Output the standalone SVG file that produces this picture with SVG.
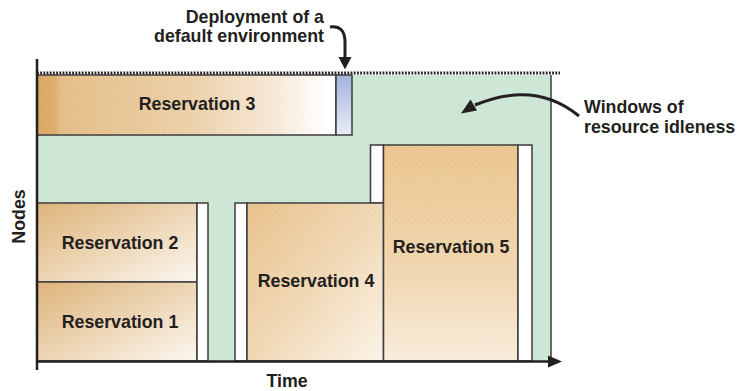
<svg xmlns="http://www.w3.org/2000/svg" width="738" height="391" viewBox="0 0 738 391">
<style>
  text { font-family: "Liberation Sans", Arial, sans-serif; font-weight: bold; font-size: 17.8px; fill: #231f20; }
  .box { stroke: #3d3b3c; stroke-width: 1.5; }
  .white { fill: #ffffff; stroke: #3d3b3c; stroke-width: 1.5; }
  .axis { stroke: #231f20; stroke-width: 2.5; fill: none; }
  .arrow { stroke: #231f20; stroke-width: 3; fill: none; }
  .head { fill: #231f20; stroke: none; }
</style>
<defs>
  <linearGradient id="g3" x1="0" y1="0" x2="1" y2="0">
    <stop offset="0" stop-color="#d8a55c"/>
    <stop offset="0.06" stop-color="#dcad6c"/>
    <stop offset="0.08" stop-color="#e4bd86"/>
    <stop offset="0.5" stop-color="#ebcfa6"/>
    <stop offset="0.8" stop-color="#f6e8d6"/>
    <stop offset="0.97" stop-color="#ffffff"/>
  </linearGradient>
  <linearGradient id="g12" x1="0" y1="0" x2="1" y2="1">
    <stop offset="0" stop-color="#dcb277"/>
    <stop offset="0.5" stop-color="#ecd4b2"/>
    <stop offset="1" stop-color="#fcf7f0"/>
  </linearGradient>
  <linearGradient id="g4" x1="0" y1="0" x2="1" y2="1">
    <stop offset="0" stop-color="#e8c18a"/>
    <stop offset="0.5" stop-color="#f0d7b3"/>
    <stop offset="1" stop-color="#fbf3e7"/>
  </linearGradient>
  <linearGradient id="g5" x1="0" y1="0" x2="0" y2="1">
    <stop offset="0" stop-color="#ebc58c"/>
    <stop offset="0.6" stop-color="#f0d6b0"/>
    <stop offset="1" stop-color="#f8ecdb"/>
  </linearGradient>
  <linearGradient id="gb" x1="0" y1="0" x2="0" y2="1">
    <stop offset="0" stop-color="#a3b2dc"/>
    <stop offset="1" stop-color="#e9edf7"/>
  </linearGradient>
  <pattern id="hatch" width="4" height="4" patternUnits="userSpaceOnUse" patternTransform="rotate(-50)">
    <line x1="0" y1="0" x2="0" y2="4" stroke="#ffffff" stroke-width="1" stroke-opacity="0.18"/>
  </pattern>
</defs>

<g id="idle-area">
  <rect x="37" y="75" width="514" height="286" fill="#cde6d5"/>
  <line x1="551" y1="75" x2="551" y2="361" stroke="#3d3b3c" stroke-width="1.5"/>
</g>

<g id="reservation-3">
  <rect class="box" x="37" y="75" width="299" height="60" fill="url(#g3)"/>
  <rect x="37" y="75" width="299" height="60" fill="url(#hatch)"/>
  <text x="197" y="110" text-anchor="middle">Reservation 3</text>
</g>
<g id="default-env">
  <rect class="box" x="336" y="75" width="16" height="60" fill="url(#gb)"/>
</g>

<g id="reservation-2">
  <rect class="box" x="37" y="203" width="160" height="79" fill="url(#g12)"/>
  <rect x="37" y="203" width="160" height="79" fill="url(#hatch)"/>
  <text x="120" y="249" text-anchor="middle">Reservation 2</text>
</g>
<g id="reservation-1">
  <rect class="box" x="37" y="282" width="160" height="79" fill="url(#g12)"/>
  <rect x="37" y="282" width="160" height="79" fill="url(#hatch)"/>
  <text x="120" y="328" text-anchor="middle">Reservation 1</text>
</g>
<g id="gap-1">
  <rect class="white" x="197" y="203" width="11" height="158"/>
</g>

<g id="gap-2">
  <rect class="white" x="235" y="203" width="12" height="158"/>
</g>
<g id="gap-3">
  <rect class="white" x="370.5" y="145" width="13" height="58"/>
</g>
<g id="reservation-4">
  <rect class="box" x="247" y="203" width="136.5" height="158" fill="url(#g4)"/>
  <rect x="247" y="203" width="136.5" height="158" fill="url(#hatch)"/>
  <text x="316" y="287" text-anchor="middle">Reservation 4</text>
</g>

<g id="reservation-5">
  <rect class="box" x="383.5" y="145" width="134.5" height="216" fill="url(#g5)"/>
  <rect x="383.5" y="145" width="134.5" height="216" fill="url(#hatch)"/>
  <text x="451" y="253" text-anchor="middle">Reservation 5</text>
</g>
<g id="gap-4">
  <rect class="white" x="518" y="145" width="14" height="216"/>
</g>

<g id="axes">
  <line x1="37" y1="73" x2="560" y2="73" stroke="#231f20" stroke-width="3" stroke-dasharray="1.8,1.4"/>
  <line class="axis" x1="37" y1="59" x2="37" y2="370"/>
  <line class="axis" x1="36" y1="361.5" x2="552" y2="361.5"/>
  <polygon class="head" points="548,355.5 548,367.5 562,361.5"/>
  <text x="0" y="0" text-anchor="middle" transform="translate(25,216.5) rotate(-90)">Nodes</text>
  <text x="287" y="387" text-anchor="middle">Time</text>
</g>

<g id="label-deployment">
  <text x="324" y="22.5" text-anchor="end">Deployment of a</text>
  <text x="324" y="42" text-anchor="end">default environment</text>
</g>
<g id="label-windows">
  <text x="584" y="113">Windows of</text>
  <text x="584" y="133">resource idleness</text>
</g>

<g id="connectors">
  <path class="arrow" d="M330,27 Q345,25 345,42 L345,60"/>
  <polygon class="head" points="338.5,57 351.5,57 345,69.5"/>
  <path class="arrow" d="M579,116 Q535,80 475,105"/>
  <polygon class="head" points="461,113.5 470.5,99.5 477,110.5"/>
</g>
</svg>
